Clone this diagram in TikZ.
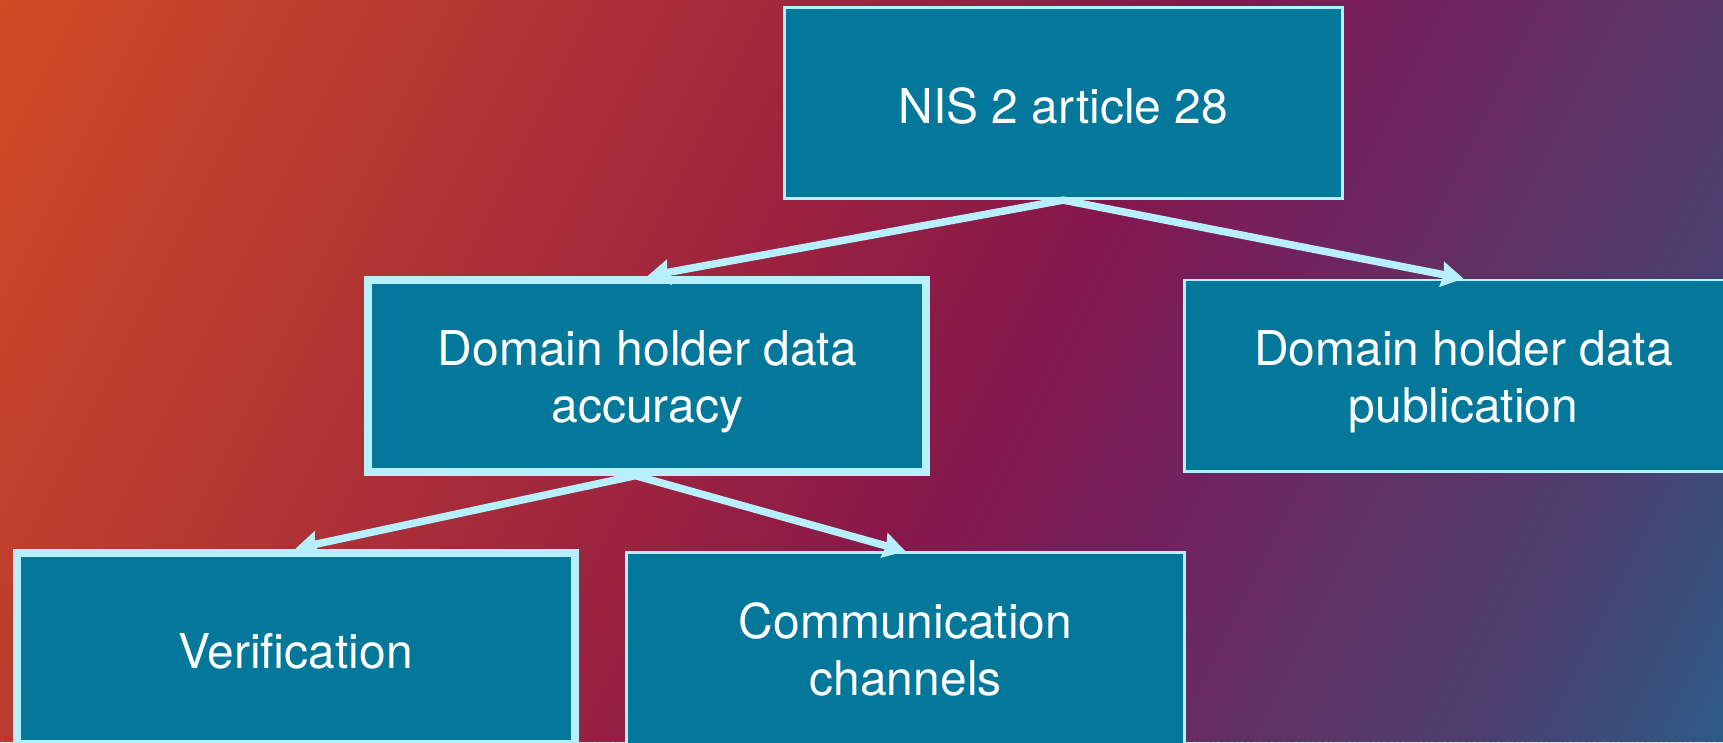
\documentclass[tikz,border=0pt]{standalone}
\usepackage{fontspec}
\setmainfont{TeX Gyre Heros}
\usetikzlibrary{arrows.meta}
\definecolor{boxfill}{HTML}{03789A}
\definecolor{edgecol}{HTML}{B8EFFC}
\definecolor{gA}{HTML}{D24B25}
\definecolor{gB}{HTML}{B83A30}
\definecolor{gC}{HTML}{9A2240}
\definecolor{gD}{HTML}{85174C}
\definecolor{gE}{HTML}{702460}
\definecolor{gF}{HTML}{642E62}
\definecolor{gG}{HTML}{4A4070}
\definecolor{gH}{HTML}{2C5C86}
\newcommand{\gradseg}[4]{%
  \pgfmathsetmacro{\segw}{(#2-#1)/ceil((#2-#1)/6)}%
  \pgfmathsetmacro{\segn}{int(ceil((#2-#1)/6))}%
  \foreach \i in {1,...,\segn}{%
    \pgfmathsetmacro{\ta}{#1+\segw*(\i-1)}%
    \pgfmathsetmacro{\tb}{#1+\segw*\i+1}%
    \pgfmathsetmacro{\pp}{(\i-0.5)/\segn*100}%
    \colorlet{cc}{#4!\pp!#3}%
    \fill[cc] (\ta,0) -- (\tb,0) -- ({\tb-371},742) -- ({\ta-371},742) -- cycle;
  }%
}
\begin{document}
\begin{tikzpicture}[x=1pt,y=-1pt,
  box/.style={draw=edgecol, line width=2.7pt, fill=boxfill, text=white,
    minimum width=558pt, minimum height=191.5pt, inner sep=0pt, align=center,
    font=\fontsize{48}{57}\selectfont},
  thickbox/.style={box, line width=8pt},
  oneline/.style={text height=40pt, text depth=0pt},
  twoline/.style={text height=97pt, text depth=3pt},
  conn/.style={draw=edgecol, line width=7.5pt, line join=miter,
    {Stealth[length=22pt,width=25pt,inset=2pt]}-{Stealth[length=22pt,width=25pt,inset=2pt]}}
]
\useasboundingbox (0,0) rectangle (1723,742);
\begin{scope}
  \clip (0,0) rectangle (1723,742);
  \gradseg{0}{400}{gA}{gB}
  \gradseg{400}{915}{gB}{gC}
  \gradseg{915}{1200}{gC}{gD}
  \gradseg{1200}{1450}{gD}{gE}
  \gradseg{1450}{1580}{gE}{gF}
  \gradseg{1580}{1860}{gF}{gG}
  \gradseg{1860}{2100}{gG}{gH}
\end{scope}
\begin{scope}
  \clip (0,0) rectangle (1723,742);
  \node[box, oneline] (top) at (1063.3,103) {NIS 2 article 28};
  \node[thickbox, twoline] (acc) at (647.4,375.9) {Domain holder data\\accuracy};
  \node[box, twoline] (pub) at (1463.5,375.7) {Domain holder data\\publication};
  \node[thickbox, oneline] (ver) at (295.5,648.3) {Verification};
  \node[box, twoline] (com) at (905.6,648.4) {Communication\\channels};
  \draw[conn] (acc.north) -- (top.south) -- (pub.north);
  \draw[conn] (ver.north) -- ([xshift=-12pt]acc.south) -- (com.north);
\end{scope}
\end{tikzpicture}
\end{document}
